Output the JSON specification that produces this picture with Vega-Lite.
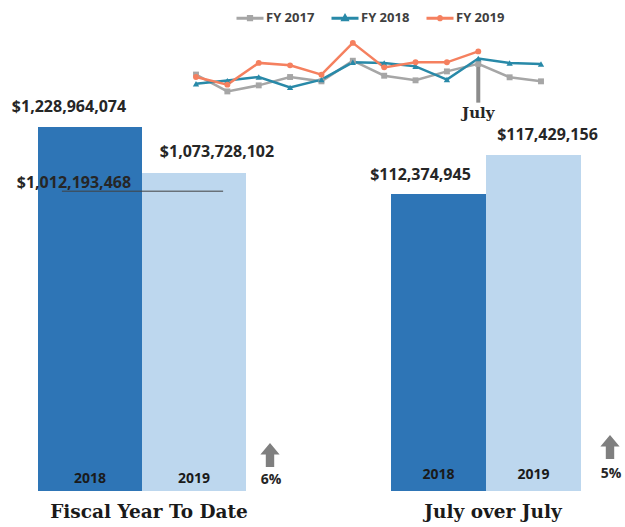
{
  "$schema": "https://vega.github.io/schema/vega-lite/v6.json",
  "background": "white",
  "padding": {"left": 11, "top": 3, "right": 0, "bottom": 0},
  "config": {"view": {"stroke": null}, "axis": {"disable": true}, "text": {"font": "Open Sans"}},
  "bounds": "flush",
  "spacing": 7,
  "resolve": {"scale": {"color": "independent"}},
  "vconcat": [
    {
      "width": 503,
      "height": 53,
      "data": {"values": [
        {"series": "FY 2017", "month": "Oct", "value": 101.3},
        {"series": "FY 2017", "month": "Nov", "value": 89.6},
        {"series": "FY 2017", "month": "Dec", "value": 93.8},
        {"series": "FY 2017", "month": "Jan", "value": 99.6},
        {"series": "FY 2017", "month": "Feb", "value": 96.6},
        {"series": "FY 2017", "month": "Mar", "value": 110.9},
        {"series": "FY 2017", "month": "Apr", "value": 100.5},
        {"series": "FY 2017", "month": "May", "value": 97.3},
        {"series": "FY 2017", "month": "Jun", "value": 103.5},
        {"series": "FY 2017", "month": "Jul", "value": 108.7},
        {"series": "FY 2017", "month": "Aug", "value": 99.4},
        {"series": "FY 2017", "month": "Sep", "value": 96.6},
        {"series": "FY 2018", "month": "Oct", "value": 95.0},
        {"series": "FY 2018", "month": "Nov", "value": 97.1},
        {"series": "FY 2018", "month": "Dec", "value": 99.6},
        {"series": "FY 2018", "month": "Jan", "value": 92.4},
        {"series": "FY 2018", "month": "Feb", "value": 97.8},
        {"series": "FY 2018", "month": "Mar", "value": 109.8},
        {"series": "FY 2018", "month": "Apr", "value": 109.4},
        {"series": "FY 2018", "month": "May", "value": 107.0},
        {"series": "FY 2018", "month": "Jun", "value": 97.8},
        {"series": "FY 2018", "month": "Jul", "value": 112.4},
        {"series": "FY 2018", "month": "Aug", "value": 109.4},
        {"series": "FY 2018", "month": "Sep", "value": 108.7},
        {"series": "FY 2019", "month": "Oct", "value": 99.6},
        {"series": "FY 2019", "month": "Nov", "value": 94.3},
        {"series": "FY 2019", "month": "Dec", "value": 109.4},
        {"series": "FY 2019", "month": "Jan", "value": 107.7},
        {"series": "FY 2019", "month": "Feb", "value": 101.2},
        {"series": "FY 2019", "month": "Mar", "value": 123.3},
        {"series": "FY 2019", "month": "Apr", "value": 106.3},
        {"series": "FY 2019", "month": "May", "value": 109.8},
        {"series": "FY 2019", "month": "Jun", "value": 109.8},
        {"series": "FY 2019", "month": "Jul", "value": 117.4}
      ]},
      "layer": [
        {
          "data": {"values": [{"month": "Jul", "top": 108.7, "bottom": 81.8, "label": "July"}]},
          "mark": {"type": "rule", "strokeWidth": 4, "color": "#8c8c8c"},
          "encoding": {
            "x": {"field": "month", "type": "ordinal", "sort": ["Oct","Nov","Dec","Jan","Feb","Mar","Apr","May","Jun","Jul","Aug","Sep"], "scale": {"type": "point", "padding": 0, "range": [158, 503]}},
            "y": {"field": "top", "type": "quantitative", "scale": {"domain": [88.5, 125.3], "nice": false, "zero": false}},
            "y2": {"field": "bottom"}
          }
        },
        {
          "data": {"values": [{"month": "Jul", "top": 108.7, "bottom": 81.8, "label": "July"}]},
          "mark": {"type": "text", "font": "DejaVu Serif", "fontWeight": "bold", "fontSize": 15, "baseline": "top", "dy": 3, "color": "#262626"},
          "encoding": {
            "x": {"field": "month", "type": "ordinal", "sort": ["Oct","Nov","Dec","Jan","Feb","Mar","Apr","May","Jun","Jul","Aug","Sep"]},
            "y": {"field": "bottom", "type": "quantitative"},
            "text": {"field": "label"}
          }
        },
        {
          "mark": {"type": "line", "strokeWidth": 2.5},
          "encoding": {
            "x": {"field": "month", "type": "ordinal", "sort": ["Oct","Nov","Dec","Jan","Feb","Mar","Apr","May","Jun","Jul","Aug","Sep"]},
            "y": {"field": "value", "type": "quantitative"},
            "color": {"field": "series", "type": "nominal", "scale": {"domain": ["FY 2017","FY 2018","FY 2019"], "range": ["#a6a6a6","#2889a8","#f5805f"]}, "legend": null}
          }
        },
        {
          "transform": [{"filter": "datum.series === 'FY 2017'"}],
          "mark": {"type": "point", "shape": "square", "filled": true, "opacity": 1, "size": 35},
          "encoding": {
            "x": {"field": "month", "type": "ordinal", "sort": ["Oct","Nov","Dec","Jan","Feb","Mar","Apr","May","Jun","Jul","Aug","Sep"]},
            "y": {"field": "value", "type": "quantitative"},
            "color": {"field": "series", "type": "nominal", "legend": null}
          }
        },
        {
          "transform": [{"filter": "datum.series === 'FY 2018'"}],
          "mark": {"type": "point", "shape": "triangle-up", "filled": true, "opacity": 1, "size": 40},
          "encoding": {
            "x": {"field": "month", "type": "ordinal", "sort": ["Oct","Nov","Dec","Jan","Feb","Mar","Apr","May","Jun","Jul","Aug","Sep"]},
            "y": {"field": "value", "type": "quantitative"},
            "color": {"field": "series", "type": "nominal", "legend": null}
          }
        },
        {
          "transform": [{"filter": "datum.series === 'FY 2019'"}],
          "mark": {"type": "point", "shape": "circle", "filled": true, "opacity": 1, "size": 35},
          "encoding": {
            "x": {"field": "month", "type": "ordinal", "sort": ["Oct","Nov","Dec","Jan","Feb","Mar","Apr","May","Jun","Jul","Aug","Sep"]},
            "y": {"field": "value", "type": "quantitative"},
            "color": {"field": "series", "type": "nominal", "legend": null}
          }
        },
        {
          "mark": {"type": "point", "filled": true, "opacity": 0},
          "encoding": {
            "x": {"field": "month", "type": "ordinal", "sort": ["Oct","Nov","Dec","Jan","Feb","Mar","Apr","May","Jun","Jul","Aug","Sep"]},
            "y": {"field": "value", "type": "quantitative"},
            "fill": {"field": "series", "type": "nominal", "scale": {"domain": ["FY 2017","FY 2018","FY 2019"], "range": ["#a6a6a6","#2889a8","#f5805f"]},
              "legend": {"orient": "none", "legendX": 197, "legendY": -37, "direction": "horizontal", "title": null, "symbolSize": 729, "symbolStrokeWidth": 3, "symbolOpacity": 1, "labelFont": "Open Sans", "labelFontSize": 13, "labelFontWeight": "bold", "labelColor": "#404040", "labelOffset": 1, "columnPadding": 10, "encode": {"symbols": {"update": {"opacity": {"value": 1}}}}}},
            "stroke": {"field": "series", "type": "nominal", "scale": {"domain": ["FY 2017","FY 2018","FY 2019"], "range": ["#a6a6a6","#2889a8","#f5805f"]},
              "legend": {"orient": "none", "legendX": 197, "legendY": -37, "direction": "horizontal", "title": null, "symbolSize": 729, "symbolStrokeWidth": 3, "symbolOpacity": 1, "labelFont": "Open Sans", "labelFontSize": 13, "labelFontWeight": "bold", "labelColor": "#404040", "labelOffset": 1, "columnPadding": 10, "encode": {"symbols": {"update": {"opacity": {"value": 1}}}}}},
            "shape": {"field": "series", "type": "nominal", "scale": {"domain": ["FY 2017","FY 2018","FY 2019"], "range": ["M-1,0H1M-0.12,-0.12H0.12V0.12H-0.12Z", "M-1,0H1M0,-0.17L0.15,0.1H-0.15Z", "M-1,0H1M0.12,0A0.12,0.12 0 1,1 -0.12,0A0.12,0.12 0 1,1 0.12,0Z"]},
              "legend": {"orient": "none", "legendX": 197, "legendY": -37, "direction": "horizontal", "title": null, "symbolSize": 729, "symbolStrokeWidth": 3, "symbolOpacity": 1, "labelFont": "Open Sans", "labelFontSize": 13, "labelFontWeight": "bold", "labelColor": "#404040", "labelOffset": 1, "columnPadding": 10, "encode": {"symbols": {"update": {"opacity": {"value": 1}}}}}}
          }
        }
      ]
    },
    {
      "bounds": "flush",
      "spacing": 145,
      "hconcat": [
        {
          "width": 208,
          "height": 391,
          "title": {"text": "Fiscal Year To Date", "orient": "bottom", "font": "DejaVu Serif", "fontSize": 18.5, "fontWeight": "bold", "color": "#1a1a1a", "offset": 12, "dx": 7},
          "data": {"values": [
            {"year": "2018", "amount": 1228964074, "label": "$1,228,964,074"},
            {"year": "2019", "amount": 1073728102, "label": "$1,073,728,102"}
          ]},
          "layer": [
            {
              "mark": {"type": "bar"},
              "encoding": {
                "x": {"field": "year", "type": "nominal", "scale": {"paddingInner": 0, "paddingOuter": 0}},
                "y": {"field": "amount", "type": "quantitative", "scale": {"domain": [0, 1320000000], "nice": false}},
                "color": {"field": "year", "type": "nominal", "scale": {"domain": ["2018","2019"], "range": ["#2e75b6","#bdd7ee"]}, "legend": null}
              }
            },
            {
              "transform": [{"filter": "datum.year === '2018'"}],
              "mark": {"type": "text", "baseline": "middle", "dy": -20, "dx": -21, "fontSize": 16, "fontWeight": "bold", "color": "#262626"},
              "encoding": {"x": {"field": "year", "type": "nominal"}, "y": {"field": "amount", "type": "quantitative"}, "text": {"field": "label"}}
            },
            {
              "transform": [{"filter": "datum.year === '2019'"}],
              "mark": {"type": "text", "baseline": "middle", "dy": -21, "dx": 23, "fontSize": 16, "fontWeight": "bold", "color": "#262626"},
              "encoding": {"x": {"field": "year", "type": "nominal"}, "y": {"field": "amount", "type": "quantitative"}, "text": {"field": "label"}}
            },
            {
              "mark": {"type": "text", "baseline": "middle", "dy": -12, "fontSize": 14, "fontWeight": "bold", "color": "#1a1a1a"},
              "encoding": {"x": {"field": "year", "type": "nominal"}, "y": {"datum": 0, "type": "quantitative"}, "text": {"field": "year"}}
            },
            {
              "data": {"values": [{"ytd": 1012193468, "label": "$1,012,193,468"}]},
              "mark": {"type": "rule", "color": "#404040", "strokeWidth": 1},
              "encoding": {
                "x": {"datum": "2018", "type": "nominal", "bandPosition": 0.23},
                "x2": {"datum": "2019", "bandPosition": 0.78},
                "y": {"field": "ytd", "type": "quantitative"}
              }
            },
            {
              "data": {"values": [{"ytd": 1012193468, "label": "$1,012,193,468"}]},
              "mark": {"type": "text", "baseline": "middle", "dy": -8, "dx": 12, "fontSize": 16, "fontWeight": "bold", "color": "#262626"},
              "encoding": {
                "x": {"datum": "2018", "type": "nominal", "bandPosition": 0.23},
                "y": {"field": "ytd", "type": "quantitative"},
                "text": {"field": "label"}
              }
            },
            {
              "data": {"values": [{"change": "6%"}]},
              "mark": {"type": "point", "shape": "M0,-1L0.8,-0.05H0.35V1H-0.35V-0.05H-0.8Z", "filled": true, "opacity": 1, "size": 576, "color": "#7f7f7f"},
              "encoding": {"x": {"datum": "2019", "type": "nominal", "bandPosition": 0}, "y": {"datum": 0, "type": "quantitative"}, "xOffset": {"value": 128}, "yOffset": {"value": -36}}
            },
            {
              "data": {"values": [{"change": "6%"}]},
              "mark": {"type": "text", "baseline": "middle", "dx": 25, "dy": -11, "fontSize": 14, "fontWeight": "bold", "color": "#262626"},
              "encoding": {"x": {"datum": "2019", "type": "nominal", "bandPosition": 1}, "y": {"datum": 0, "type": "quantitative"}, "text": {"field": "change"}}
            }
          ]
        },
        {
          "width": 190,
          "height": 391,
          "title": {"text": "July over July", "orient": "bottom", "font": "DejaVu Serif", "fontSize": 18.5, "fontWeight": "bold", "color": "#1a1a1a", "offset": 12, "dx": 7},
          "data": {"values": [
            {"year": "2018", "amount": 112374945, "label": "$112,374,945"},
            {"year": "2019", "amount": 117429156, "label": "$117,429,156"}
          ]},
          "layer": [
            {
              "mark": {"type": "bar"},
              "encoding": {
                "x": {"field": "year", "type": "nominal", "scale": {"paddingInner": 0, "paddingOuter": 0}},
                "y": {"field": "amount", "type": "quantitative", "scale": {"domain": [73900000, 124560000], "nice": false, "zero": false}},
                "y2": {"datum": 73900000},
                "color": {"field": "year", "type": "nominal", "scale": {"domain": ["2018","2019"], "range": ["#2e75b6","#bdd7ee"]}, "legend": null}
              }
            },
            {
              "transform": [{"filter": "datum.year === '2018'"}],
              "mark": {"type": "text", "baseline": "middle", "dy": -19, "dx": -18, "fontSize": 16, "fontWeight": "bold", "color": "#262626"},
              "encoding": {"x": {"field": "year", "type": "nominal"}, "y": {"field": "amount", "type": "quantitative"}, "text": {"field": "label"}}
            },
            {
              "transform": [{"filter": "datum.year === '2019'"}],
              "mark": {"type": "text", "baseline": "middle", "dy": -20, "dx": 14, "fontSize": 16, "fontWeight": "bold", "color": "#262626"},
              "encoding": {"x": {"field": "year", "type": "nominal"}, "y": {"field": "amount", "type": "quantitative"}, "text": {"field": "label"}}
            },
            {
              "mark": {"type": "text", "baseline": "middle", "dy": -16, "fontSize": 14, "fontWeight": "bold", "color": "#1a1a1a"},
              "encoding": {"x": {"field": "year", "type": "nominal"}, "y": {"datum": 73900000, "type": "quantitative"}, "text": {"field": "year"}}
            },
            {
              "data": {"values": [{"change": "5%"}]},
              "mark": {"type": "point", "shape": "M0,-1L0.8,-0.05H0.35V1H-0.35V-0.05H-0.8Z", "filled": true, "opacity": 1, "size": 576, "color": "#7f7f7f"},
              "encoding": {"x": {"datum": "2019", "type": "nominal", "bandPosition": 0}, "y": {"datum": 73900000, "type": "quantitative"}, "xOffset": {"value": 124}, "yOffset": {"value": -44}}
            },
            {
              "data": {"values": [{"change": "5%"}]},
              "mark": {"type": "text", "baseline": "middle", "dx": 30, "dy": -17, "fontSize": 14, "fontWeight": "bold", "color": "#262626"},
              "encoding": {"x": {"datum": "2019", "type": "nominal", "bandPosition": 1}, "y": {"datum": 73900000, "type": "quantitative"}, "text": {"field": "change"}}
            }
          ]
        }
      ]
    }
  ]
}
